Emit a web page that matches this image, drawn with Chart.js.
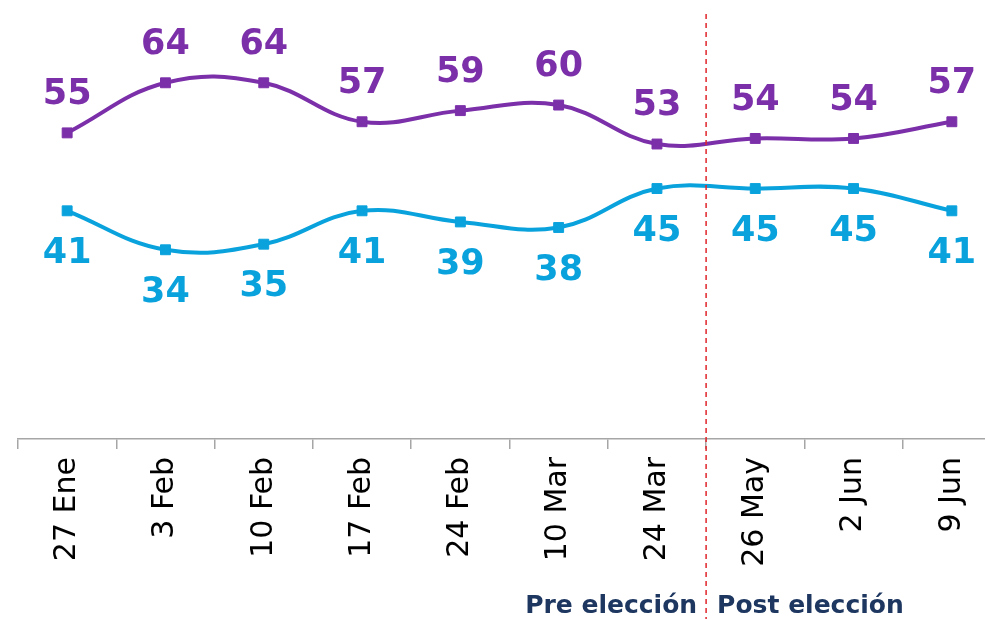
<!DOCTYPE html>
<html>
<head>
<meta charset="utf-8">
<script src="https://cdn.jsdelivr.net/npm/chart.js@4"></script>
<style>
  html, body { margin: 0; padding: 0; background: #fff; overflow: hidden; }
  /* the last category runs past the right edge of the window, as in the source */
  #wrap { width: 1001px; height: 619px; position: relative; }
</style>
</head>
<body>
<div id="wrap"><canvas id="chart"></canvas></div>
<script>
const categories = ["27 Ene", "3 Feb", "10 Feb", "17 Feb", "24 Feb", "10 Mar", "24 Mar", "26 May", "2 Jun", "9 Jun"];
const purpleValues = [55, 64, 64, 57, 59, 60, 53, 54, 54, 57];
const cyanValues = [41, 34, 35, 41, 39, 38, 45, 45, 45, 41];
const splitAfter = "24 Mar";
const periodLabels = ["Pre elección", "Post elección"];

const PURPLE = "#7B2FA9";
const CYAN = "#0AA2DD";
const NAVY = "#1E3760";

// value labels above (purple) / below (cyan) each point
const valueLabels = {
  id: "valueLabels",
  afterDatasetsDraw(chart) {
    const ctx = chart.ctx;
    ctx.save();
    ctx.font = "bold 35px 'DejaVu Sans'";
    ctx.textAlign = "center";
    ctx.textBaseline = "middle";
    chart.data.datasets.forEach((ds, i) => {
      const meta = chart.getDatasetMeta(i);
      ctx.fillStyle = ds.borderColor;
      meta.data.forEach((pt, j) => {
        const dy = ds.labelPos === "top" ? -38 : 43;
        ctx.fillText(ds.data[j], pt.x, pt.y + dy);
      });
    });
    ctx.restore();
  }
};

// dashed divider between pre and post election + period captions
const divider = {
  id: "divider",
  afterDraw(chart) {
    const x = chart.scales.x;
    const i = categories.indexOf(splitAfter);
    const xm = (x.getPixelForValue(i) + x.getPixelForValue(i + 1)) / 2;
    const ctx = chart.ctx;
    ctx.save();
    ctx.strokeStyle = "#E0252B";
    ctx.lineWidth = 1.5;
    ctx.setLineDash([5, 4]);
    ctx.beginPath();
    ctx.moveTo(xm, 14);
    ctx.lineTo(xm, chart.height);
    ctx.stroke();
    ctx.setLineDash([]);
    ctx.font = "bold 25px 'DejaVu Sans'";
    ctx.fillStyle = NAVY;
    ctx.textBaseline = "middle";
    ctx.textAlign = "right";
    ctx.fillText(periodLabels[0], xm - 9, 606);
    ctx.textAlign = "left";
    ctx.fillText(periodLabels[1], xm + 11, 606);
    ctx.restore();
  }
};

new Chart(document.getElementById("chart"), {
  type: "line",
  data: {
    labels: categories,
    datasets: [
      {
        data: purpleValues,
        borderColor: PURPLE,
        backgroundColor: PURPLE,
        labelPos: "top"
      },
      {
        data: cyanValues,
        borderColor: CYAN,
        backgroundColor: CYAN,
        labelPos: "bottom"
      }
    ]
  },
  options: {
    responsive: true,
    maintainAspectRatio: false,
    animation: false,
    layout: { autoPadding: false, padding: { top: 16, left: 18, right: 0, bottom: 0 } },
    elements: {
      line: { borderWidth: 4, tension: 0.4 },
      point: { pointStyle: "rect", radius: 7, hoverRadius: 7 }
    },
    plugins: {
      legend: { display: false },
      tooltip: { enabled: false }
    },
    scales: {
      x: {
        offset: true,
        grid: {
          offset: true,
          drawOnChartArea: false,
          tickLength: 10,
          color: "#A6A6A6",
          lineWidth: 1.5
        },
        border: { color: "#A6A6A6", width: 1.5 },
        ticks: {
          minRotation: 90,
          maxRotation: 90,
          padding: 8,
          color: "#000",
          font: { family: "'DejaVu Sans'", size: 30 }
        },
        afterFit(scale) {
          scale.height = 180;
        }
      },
      y: {
        display: false,
        min: 0,
        max: 76
      }
    }
  },
  plugins: [valueLabels, divider]
});
</script>
</body>
</html>
